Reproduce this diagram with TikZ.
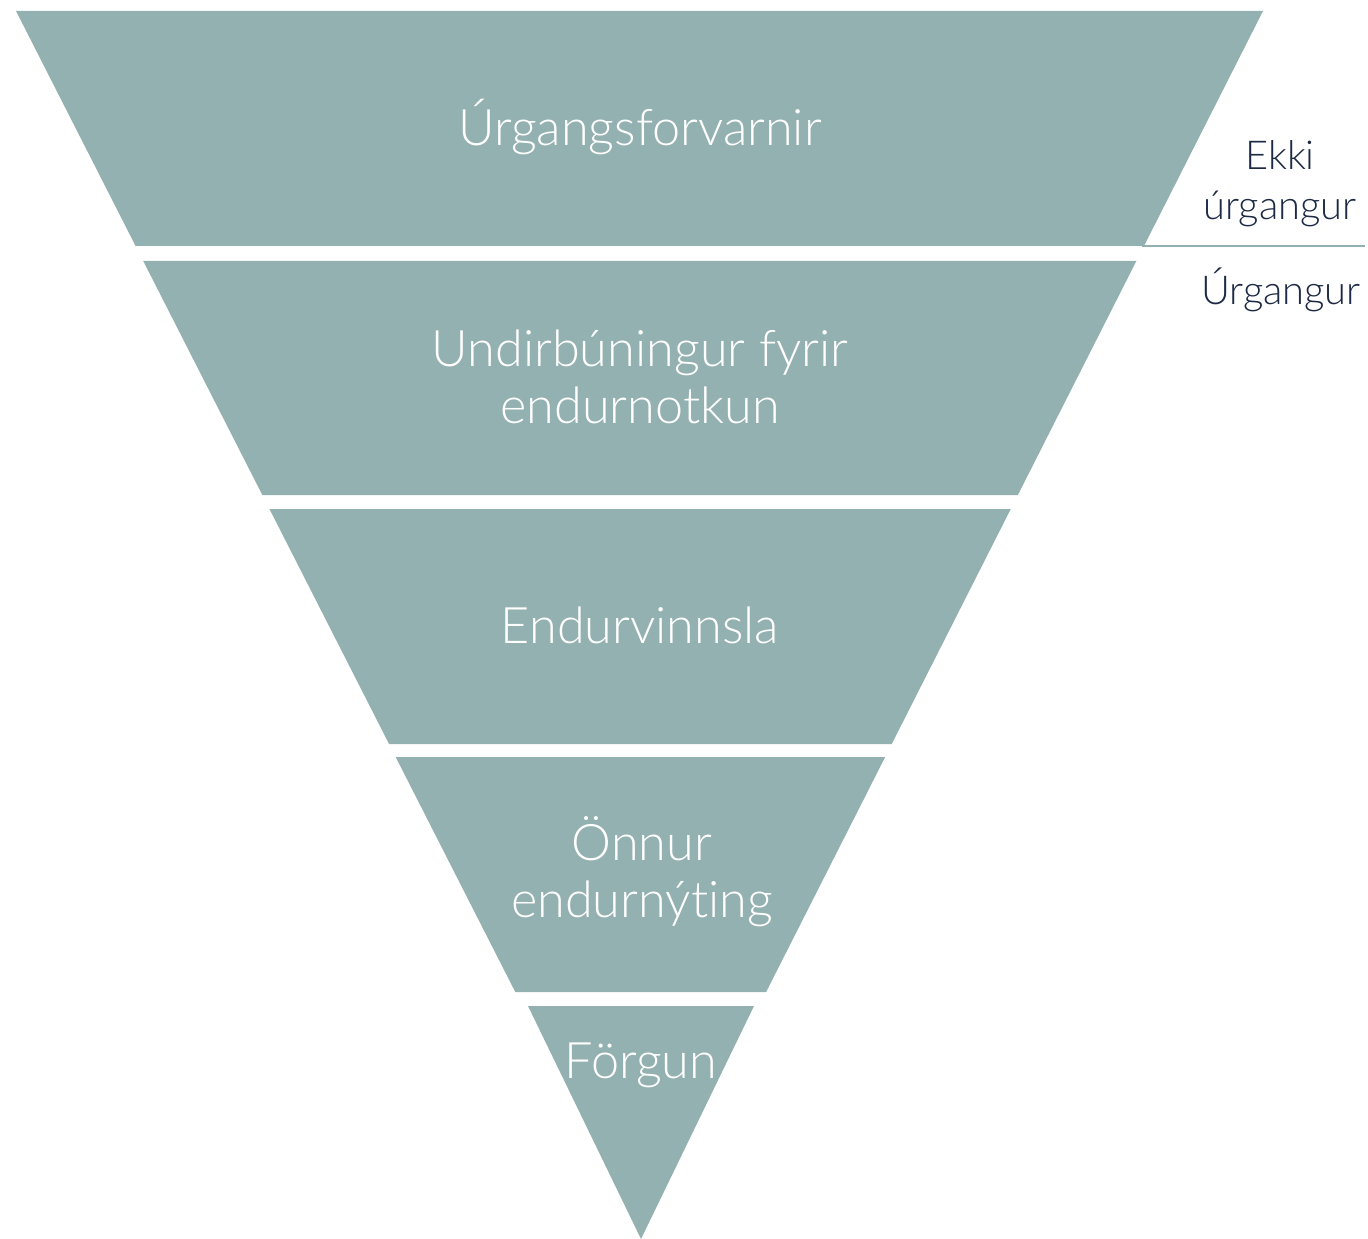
\documentclass[tikz,border=0pt]{standalone}
\usepackage{fontspec}
\setmainfont[Ligatures=NoCommon]{Lato Light}
\usepackage{tikz}
\definecolor{tealgray}{RGB}{147,177,176}
\definecolor{navytext}{RGB}{29,42,68}
\tikzset{
  band/.style={fill=tealgray,draw=none},
  bandlabel/.style={text=white,align=center,font=\fontsize{43}{48.5}\selectfont},
  sidelabel/.style={text=navytext,align=center,font=\fontsize{34}{42.5}\selectfont}
}

\begin{document}
\begin{tikzpicture}[x=0.03cm,y=-0.03cm]
                \useasboundingbox (0,0) rectangle (1368,1239);
                % bands of the inverted triangle, top and bottom in px
                \foreach \t/\b in {11/246,261/495,509/744,757/992} {
                    \pgfmathsetmacro{\lt}{16+(\t-11)/1228*625}
                    \pgfmathsetmacro{\lb}{16+(\b-11)/1228*625}
                    \pgfmathsetmacro{\rt}{1263-(\t-11)/1228*622}
                    \pgfmathsetmacro{\rb}{1263-(\b-11)/1228*622}
                    \fill[band] (\lt,\t) -- (\rt,\t) -- (\rb,\b) -- (\lb,\b) -- cycle;
                }
                \fill[band] (528,1006) -- (754,1006) -- (641,1239) -- cycle;

                \node[bandlabel] (prevention) at (640,127) {Úrgangsforvarnir};
                \node[bandlabel] (reuse) at (640,377) {Undirbúningur fyrir\\endurnotkun};
                \node[bandlabel] (recycling) at (640,625) {Endurvinnsla};
                \node[bandlabel] (recovery) at (642,872) {Önnur\\endurnýting};
                \node[bandlabel] (disposal) at (641,1065) {Förgun};

                \node[sidelabel] (notwaste) at (1280,184) {Ekki\\úrgangur};
                \node[sidelabel] (waste) at (1281,290) {Úrgangur};
                \coordinate (sepL) at (1142,246);
                \coordinate (sepR) at (1365,246);
                \draw[tealgray,line width=1pt] (sepL) -- (sepR);
\end{tikzpicture}
\end{document}
